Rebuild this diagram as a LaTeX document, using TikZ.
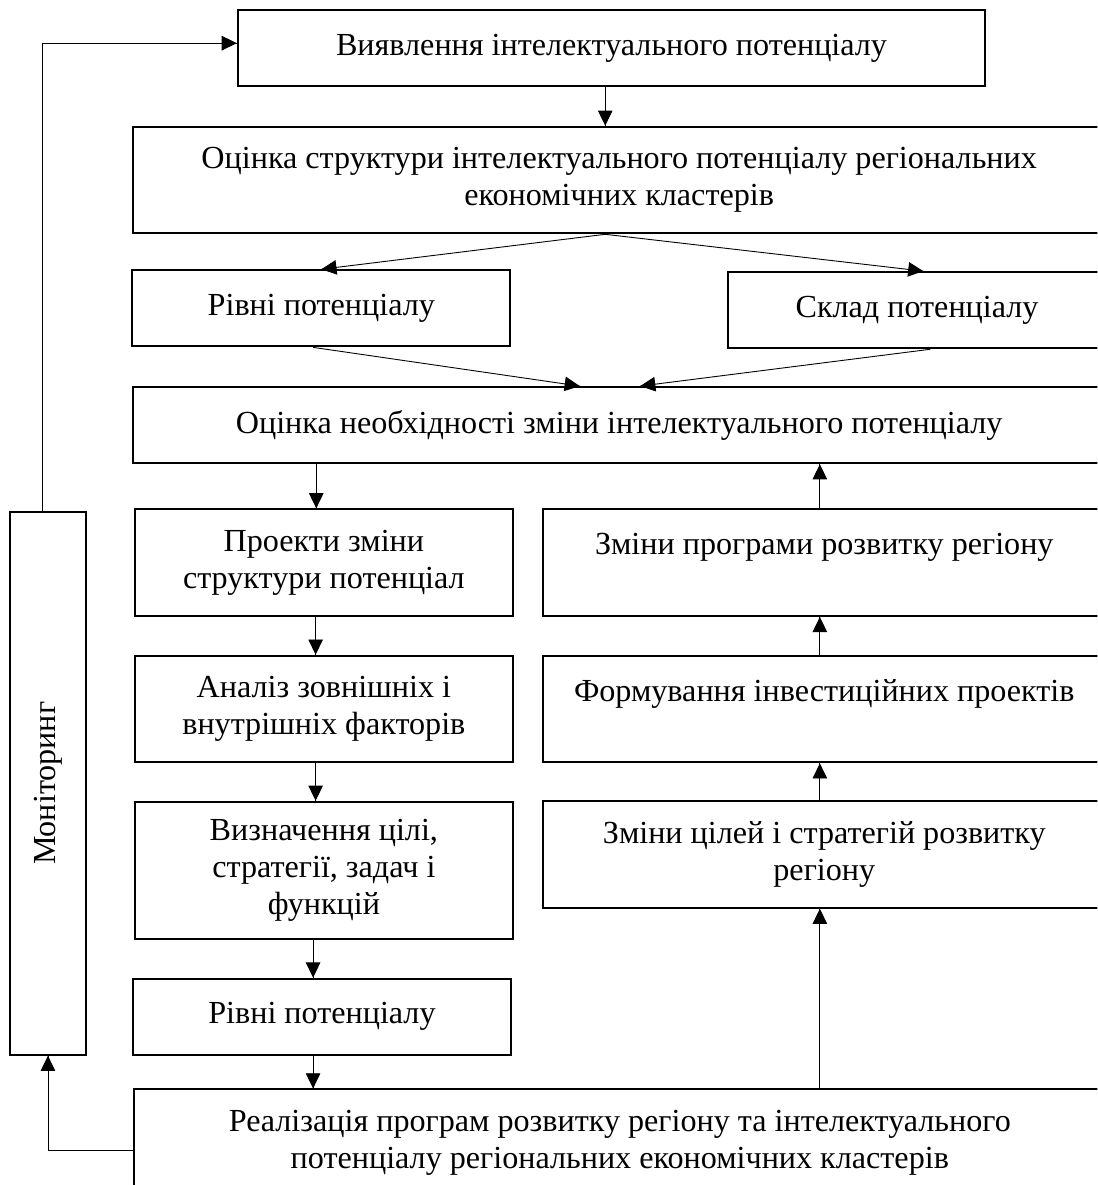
\documentclass[tikz,border=0pt]{standalone}
\usepackage{fontspec}
\setmainfont{Liberation Serif}
\usepackage{graphicx}
\usetikzlibrary{arrows.meta}
\usetikzlibrary{decorations.markings}
\tikzstyle{blok}=[draw, line width=0.85pt, align=center, text centered,
  inner sep=0pt, font=\fontsize{14.4}{16.5}\selectfont]
\tikzstyle{topbox} = [blok, minimum width=11.77cm, minimum height=1.2cm]
\tikzstyle{longbox} = [blok, minimum width=15.3cm, minimum height=1.2cm]
\tikzstyle{longtall} = [blok, minimum width=15.3cm, minimum height=1.68cm]
\tikzstyle{leftbox} = [blok, minimum width=5.95cm, minimum height=1.2cm]
\tikzstyle{lefttall} = [blok, minimum width=5.95cm, minimum height=1.68cm]
\tikzstyle{lefthigh} = [blok, minimum width=5.95cm, minimum height=2.16cm]
\tikzstyle{rightbox} = [blok, minimum width=8.85cm, minimum height=1.68cm]
\tikzstyle{sidebox} = [blok, minimum width=1.2cm, minimum height=8.55cm]
\tikzset{
    tip arrow/.style={
        decoration={markings,mark=at position 1 with
          {\arrow{Triangle[length=6.8pt,width=6.5pt]}}},
        postaction={decorate}}}
\tikzstyle{line} = [draw, line width=0.4pt, tip arrow]
\newcommand{\etap}[3]{node (e#1) [#2] {#3}}

\begin{document}
\begin{tikzpicture}
\useasboundingbox (0,0) rectangle (17.28,-18.66);
\clip (0,0) rectangle (17.28,-18.66);
% Draw diagram elements
\path (9.63,-0.76) \etap{1}{topbox}{Виявлення інтелектуального потенціалу};
\path (e1.south) +(0.12,-1.46) \etap{2}{longtall}{Оцінка структури
  інтелектуального потенціалу регіональних\\економічних кластерів};

\path (e2.south) +(-4.69,-1.165) \etap{3}{leftbox}{Рівні потенціалу};
\path (e2.south) +(4.69,-1.195) \etap{4}{leftbox}{Склад потенціалу};
\path (e2.south) +(0,-3.005) \etap{5}{longbox}{Оцінка необхідності зміни
  інтелектуального потенціалу};

\path (e5.south) +(-4.65,-1.55) \etap{6}{lefttall}{Проекти зміни\\структури потенціал};
\path (e6.south) +(0,-1.45) \etap{7}{lefttall}{Аналіз зовнішніх і\\внутрішніх факторів};
\path (e7.south) +(0,-1.685) \etap{8}{lefthigh}{Визначення цілі,\\стратегії, задач і\\функцій};
\path (e8.south) +(-0.03,-1.21) \etap{9}{leftbox}{Рівні потенціалу};
\path (e9.south) +(4.69,-1.37) \etap{10}{longtall}{Реалізація програм розвитку
  регіону та інтелектуального\\потенціалу регіональних економічних кластерів};

\path (e5.south) +(3.23,-1.55) \etap{11}{rightbox}{Зміни програми розвитку регіону\\~};
\path (e11.south) +(0,-1.45) \etap{12}{rightbox}{Формування інвестиційних проектів\\~};
\path (e12.south) +(0,-1.435) \etap{13}{rightbox}{Зміни цілей і стратегій розвитку\\регіону};

\path (e8.west) +(-1.355,1.37) \etap{14}{sidebox}{\rotatebox{90}{Моніторинг}};

% Draw arrows between elements
\path [line] ([xshift=-0.08cm]e14.north) |- ([yshift=0.08cm]e1.west);
\path [line] ([xshift=-0.1cm]e1.south) -- ([xshift=-0.1cm]e1.south |- e2.north);

\coordinate (br) at ([xshift=-0.22cm]e2.south);
\path [line] (br) -- (e3.north);
\path [line] (br) -- ([xshift=0.1cm]e4.north);
\path [line] ([xshift=-0.13cm]e3.south) -- ([xshift=-0.62cm]e5.north);
\path [line] ([xshift=0.21cm]e4.south) -- ([xshift=0.33cm]e5.north);

\path [line] ([xshift=-0.12cm]e6.north |- e5.south) -- ([xshift=-0.12cm]e6.north);
\path [line] ([xshift=-0.13cm]e6.south) -- ([xshift=-0.13cm]e7.north);
\path [line] ([xshift=-0.13cm]e7.south) -- ([xshift=-0.13cm]e8.north);
\path [line] ([xshift=-0.17cm]e8.south) -- ([xshift=-0.14cm]e9.north);
\path [line] ([xshift=-0.14cm]e9.south) -- ([xshift=-0.14cm]e9.south |- e10.north);

\path [line] ([xshift=-0.07cm]e11.north) -- ([xshift=-0.07cm]e11.north |- e5.south);
\path [line] ([xshift=-0.07cm]e12.north) -- ([xshift=-0.07cm]e11.south);
\path [line] ([xshift=-0.07cm]e13.north) -- ([xshift=-0.07cm]e12.south);
\path [line] ([xshift=-0.07cm]e13.south |- e10.north) -- ([xshift=-0.07cm]e13.south);

\path [line] ([yshift=-0.12cm]e10.west) -| (e14.south);
\end{tikzpicture}
\end{document}
